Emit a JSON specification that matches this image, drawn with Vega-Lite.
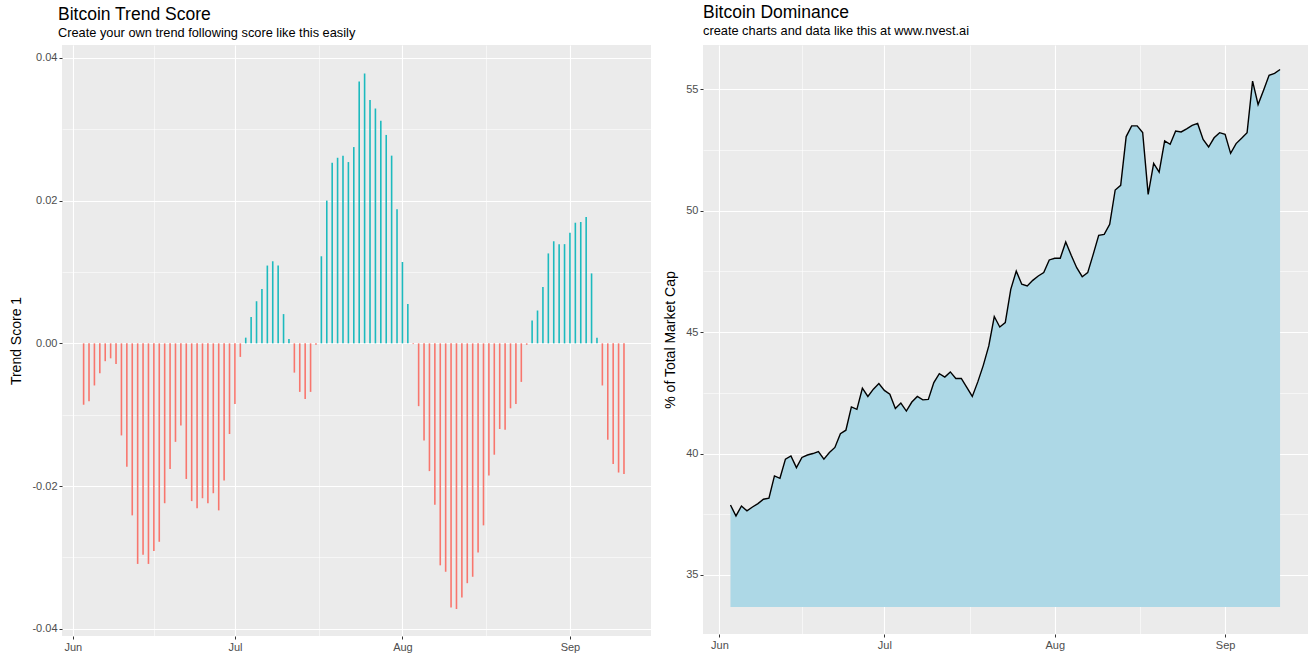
{
  "$schema": "https://vega.github.io/schema/vega-lite/v6.json",
  "padding": {"left": 9, "top": 3, "right": 2, "bottom": 2},
  "background": "#FFFFFF",
  "data": {"values": [
    {"date":"2018-06-03T00:00","score":-0.0086,"dom":37.88},
    {"date":"2018-06-04T00:00","score":-0.0081,"dom":37.43},
    {"date":"2018-06-05T00:00","score":-0.0059,"dom":37.84},
    {"date":"2018-06-06T00:00","score":-0.0042,"dom":37.64},
    {"date":"2018-06-07T00:00","score":-0.0025,"dom":37.80},
    {"date":"2018-06-08T00:00","score":-0.0021,"dom":37.94},
    {"date":"2018-06-09T00:00","score":-0.0029,"dom":38.12},
    {"date":"2018-06-10T00:00","score":-0.0129,"dom":38.16},
    {"date":"2018-06-11T00:00","score":-0.0173,"dom":39.08},
    {"date":"2018-06-12T00:00","score":-0.0241,"dom":38.98},
    {"date":"2018-06-13T00:00","score":-0.0309,"dom":39.77},
    {"date":"2018-06-14T00:00","score":-0.0296,"dom":39.90},
    {"date":"2018-06-15T00:00","score":-0.0309,"dom":39.42},
    {"date":"2018-06-16T00:00","score":-0.0291,"dom":39.84},
    {"date":"2018-06-17T00:00","score":-0.0278,"dom":39.94},
    {"date":"2018-06-18T00:00","score":-0.0224,"dom":40.00},
    {"date":"2018-06-19T00:00","score":-0.0176,"dom":40.08},
    {"date":"2018-06-20T00:00","score":-0.0138,"dom":39.77},
    {"date":"2018-06-21T00:00","score":-0.0115,"dom":40.04},
    {"date":"2018-06-22T00:00","score":-0.0190,"dom":40.25},
    {"date":"2018-06-23T00:00","score":-0.0221,"dom":40.82},
    {"date":"2018-06-24T00:00","score":-0.0231,"dom":40.96},
    {"date":"2018-06-25T00:00","score":-0.0217,"dom":41.92},
    {"date":"2018-06-26T00:00","score":-0.0224,"dom":41.82},
    {"date":"2018-06-27T00:00","score":-0.0210,"dom":42.69},
    {"date":"2018-06-28T00:00","score":-0.0234,"dom":42.35},
    {"date":"2018-06-29T00:00","score":-0.0192,"dom":42.65},
    {"date":"2018-06-30T00:00","score":-0.0127,"dom":42.88},
    {"date":"2018-07-01T00:00","score":-0.0085,"dom":42.60},
    {"date":"2018-07-02T00:00","score":-0.0019,"dom":42.44},
    {"date":"2018-07-03T00:00","score":0.0008,"dom":41.85},
    {"date":"2018-07-04T00:00","score":0.0037,"dom":42.08},
    {"date":"2018-07-05T00:00","score":0.0059,"dom":41.75},
    {"date":"2018-07-06T00:00","score":0.0076,"dom":42.12},
    {"date":"2018-07-07T00:00","score":0.0109,"dom":42.35},
    {"date":"2018-07-08T00:00","score":0.0115,"dom":42.21},
    {"date":"2018-07-09T00:00","score":0.0109,"dom":42.23},
    {"date":"2018-07-10T00:00","score":0.0041,"dom":42.92},
    {"date":"2018-07-11T00:00","score":0.0006,"dom":43.29},
    {"date":"2018-07-12T00:00","score":-0.0041,"dom":43.15},
    {"date":"2018-07-13T00:00","score":-0.0068,"dom":43.36},
    {"date":"2018-07-14T00:00","score":-0.0078,"dom":43.09},
    {"date":"2018-07-15T00:00","score":-0.0068,"dom":43.09},
    {"date":"2018-07-16T00:00","score":-0.0002,"dom":42.72},
    {"date":"2018-07-17T00:00","score":0.0122,"dom":42.35},
    {"date":"2018-07-18T00:00","score":0.0200,"dom":42.95},
    {"date":"2018-07-19T00:00","score":0.0253,"dom":43.63},
    {"date":"2018-07-20T00:00","score":0.0260,"dom":44.43},
    {"date":"2018-07-21T00:00","score":0.0263,"dom":45.64},
    {"date":"2018-07-22T00:00","score":0.0254,"dom":45.21},
    {"date":"2018-07-23T00:00","score":0.0275,"dom":45.39},
    {"date":"2018-07-24T00:00","score":0.0367,"dom":46.76},
    {"date":"2018-07-25T00:00","score":0.0378,"dom":47.51},
    {"date":"2018-07-26T00:00","score":0.0341,"dom":46.97},
    {"date":"2018-07-27T00:00","score":0.0329,"dom":46.90},
    {"date":"2018-07-28T00:00","score":0.0312,"dom":47.13},
    {"date":"2018-07-29T00:00","score":0.0292,"dom":47.31},
    {"date":"2018-07-30T00:00","score":0.0263,"dom":47.45},
    {"date":"2018-07-31T00:00","score":0.0188,"dom":47.97},
    {"date":"2018-08-01T00:00","score":0.0114,"dom":48.04},
    {"date":"2018-08-02T00:00","score":0.0055,"dom":48.04},
    {"date":"2018-08-03T00:00","score":-0.0001,"dom":48.71},
    {"date":"2018-08-04T00:00","score":-0.0088,"dom":48.16},
    {"date":"2018-08-05T00:00","score":-0.0136,"dom":47.65},
    {"date":"2018-08-06T00:00","score":-0.0179,"dom":47.28},
    {"date":"2018-08-07T00:00","score":-0.0226,"dom":47.45},
    {"date":"2018-08-08T00:00","score":-0.0311,"dom":48.20},
    {"date":"2018-08-09T00:00","score":-0.0320,"dom":48.98},
    {"date":"2018-08-10T00:00","score":-0.0370,"dom":49.02},
    {"date":"2018-08-11T00:00","score":-0.0372,"dom":49.44},
    {"date":"2018-08-12T00:00","score":-0.0356,"dom":50.85},
    {"date":"2018-08-13T00:00","score":-0.0336,"dom":51.04},
    {"date":"2018-08-14T00:00","score":-0.0327,"dom":53.05},
    {"date":"2018-08-15T00:00","score":-0.0293,"dom":53.49},
    {"date":"2018-08-16T00:00","score":-0.0255,"dom":53.49},
    {"date":"2018-08-17T00:00","score":-0.0185,"dom":53.22},
    {"date":"2018-08-18T00:00","score":-0.0156,"dom":50.67},
    {"date":"2018-08-19T00:00","score":-0.0120,"dom":51.95},
    {"date":"2018-08-20T00:00","score":-0.0121,"dom":51.59},
    {"date":"2018-08-21T00:00","score":-0.0091,"dom":52.87},
    {"date":"2018-08-22T00:00","score":-0.0085,"dom":52.73},
    {"date":"2018-08-23T00:00","score":-0.0054,"dom":53.28},
    {"date":"2018-08-24T00:00","score":-0.0002,"dom":53.24},
    {"date":"2018-08-25T00:00","score":0.0032,"dom":53.37},
    {"date":"2018-08-26T00:00","score":0.0046,"dom":53.51},
    {"date":"2018-08-27T00:00","score":0.0079,"dom":53.59},
    {"date":"2018-08-28T00:00","score":0.0126,"dom":52.93},
    {"date":"2018-08-29T00:00","score":0.0143,"dom":52.62},
    {"date":"2018-08-30T00:00","score":0.0139,"dom":53.00},
    {"date":"2018-08-31T00:00","score":0.0139,"dom":53.21},
    {"date":"2018-09-01T00:00","score":0.0155,"dom":53.14},
    {"date":"2018-09-02T00:00","score":0.0169,"dom":52.36},
    {"date":"2018-09-03T00:00","score":0.0170,"dom":52.76},
    {"date":"2018-09-04T00:00","score":0.0177,"dom":52.98},
    {"date":"2018-09-05T00:00","score":0.0098,"dom":53.21},
    {"date":"2018-09-06T00:00","score":0.0008,"dom":55.33},
    {"date":"2018-09-07T00:00","score":-0.0059,"dom":54.37},
    {"date":"2018-09-08T00:00","score":-0.0135,"dom":54.96},
    {"date":"2018-09-09T00:00","score":-0.0169,"dom":55.57},
    {"date":"2018-09-10T00:00","score":-0.0181,"dom":55.65},
    {"date":"2018-09-11T00:00","score":-0.0183,"dom":55.81}
  ]},
  "hconcat": [
    {
      "width": 589,
      "height": 591,
      "title": {"text": "Bitcoin Trend Score", "subtitle": "Create your own trend following score like this easily", "anchor": "start", "frame": "group", "dx": -4, "offset": 5},
      "layer": [
        {
          "mark": {"type": "rule", "opacity": 0},
          "encoding": {
            "x": {"field": "date", "type": "temporal",
              "scale": {"domain": [{"year": 2018, "month": 5, "date": 30}, {"year": 2018, "month": 9, "date": 16}]},
              "axis": {"orient": "top", "values": [{"year": 2018, "month": 6, "date": 16}, {"year": 2018, "month": 7, "date": 16, "hours": 12}, {"year": 2018, "month": 8, "date": 16, "hours": 12}], "labels": false, "ticks": false, "domain": false, "title": null, "grid": true, "gridWidth": 0.55}},
            "y": {"field": "score", "type": "quantitative",
              "scale": {"domain": [-0.041, 0.0418], "nice": false, "zero": false},
              "axis": {"orient": "right", "values": [-0.03, -0.01, 0.01, 0.03], "labels": false, "ticks": false, "domain": false, "title": null, "grid": true, "gridWidth": 0.55}}
          }
        },
        {
          "mark": {"type": "rule", "strokeWidth": 1.6},
          "encoding": {
            "x": {"field": "date", "type": "temporal",
              "axis": {"values": [{"year": 2018, "month": 6, "date": 1}, {"year": 2018, "month": 7, "date": 1}, {"year": 2018, "month": 8, "date": 1}, {"year": 2018, "month": 9, "date": 1}], "format": "%b", "title": null, "grid": true}},
            "y": {"field": "score", "type": "quantitative",
              "axis": {"values": [-0.04, -0.02, 0, 0.02, 0.04], "title": "Trend Score 1", "labelExpr": "replace(format(datum.value, '.2f'), '−', '-')", "grid": true}},
            "y2": {"datum": 0},
            "color": {"condition": {"test": "datum.score < 0", "value": "#F8766D"}, "value": "#1CBABE"}
          }
        }
      ],
      "resolve": {"axis": {"x": "independent", "y": "independent"}}
    },
    {
      "width": 605,
      "height": 589,
      "title": {"text": "Bitcoin Dominance", "subtitle": "create charts and data like this at www.nvest.ai", "anchor": "start", "frame": "group", "offset": 7},
      "layer": [
        {
          "mark": {"type": "area", "color": "#ADD8E6", "opacity": 1},
          "encoding": {
            "x": {"field": "date", "type": "temporal",
              "scale": {"domain": [{"year": 2018, "month": 5, "date": 29}, {"year": 2018, "month": 9, "date": 16, "hours": 2}]},
              "axis": {"orient": "top", "values": [{"year": 2018, "month": 6, "date": 16}, {"year": 2018, "month": 7, "date": 16, "hours": 12}, {"year": 2018, "month": 8, "date": 16, "hours": 12}], "labels": false, "ticks": false, "domain": false, "title": null, "grid": true, "gridWidth": 0.55}},
            "y": {"field": "dom", "type": "quantitative",
              "scale": {"domain": [32.57, 56.82], "nice": false, "zero": false},
              "axis": {"orient": "right", "values": [37.5, 42.5, 47.5, 52.5], "labels": false, "ticks": false, "domain": false, "title": null, "grid": true, "gridWidth": 0.55}},
            "y2": {"datum": 33.68}
          }
        },
        {
          "mark": {"type": "line", "color": "#000000", "strokeWidth": 1.4},
          "encoding": {
            "x": {"field": "date", "type": "temporal",
              "axis": {"values": [{"year": 2018, "month": 6, "date": 1}, {"year": 2018, "month": 7, "date": 1}, {"year": 2018, "month": 8, "date": 1}, {"year": 2018, "month": 9, "date": 1}], "format": "%b", "title": null, "grid": true}},
            "y": {"field": "dom", "type": "quantitative",
              "axis": {"values": [35, 40, 45, 50, 55], "title": "% of Total Market Cap", "grid": true}}
          }
        }
      ],
      "resolve": {"axis": {"x": "independent", "y": "independent"}}
    }
  ],
  "config": {
    "font": "Liberation Sans",
    "view": {"fill": "#EBEBEB", "stroke": null},
    "concat": {"spacing": 12},
    "axis": {"domain": false, "gridColor": "#FFFFFF", "gridWidth": 1.1, "gridOpacity": 1, "tickColor": "#333333", "tickSize": 3, "tickWidth": 1, "labelColor": "#4D4D4D", "labelFontSize": 11, "labelPadding": 2, "titleFontSize": 14, "titleFontWeight": "normal", "titleColor": "#000000", "titlePadding": 8},
    "title": {"fontSize": 17.5, "fontWeight": "normal", "color": "#000000", "subtitleFontSize": 12.8, "subtitleColor": "#000000", "subtitlePadding": 4, "anchor": "start"}
  }
}
